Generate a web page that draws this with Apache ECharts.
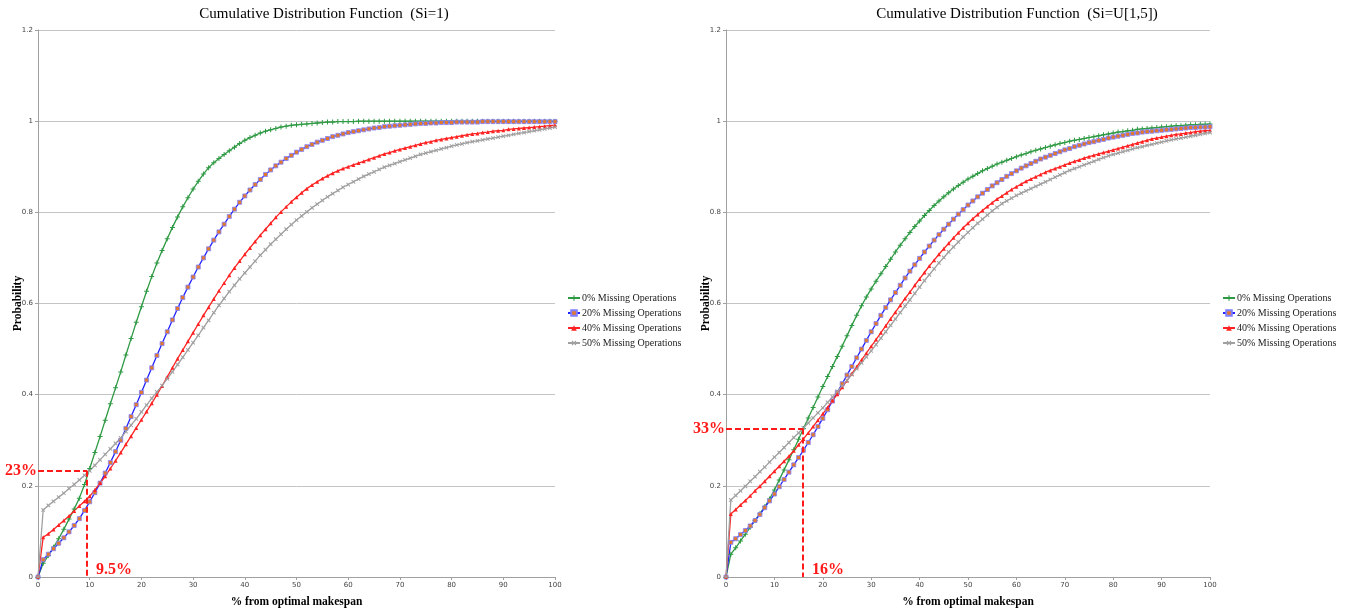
<!DOCTYPE html>
<html>
<head>
<meta charset="utf-8">
<script src="https://cdn.jsdelivr.net/npm/echarts@6/dist/echarts.min.js"></script>
<style>html,body{margin:0;padding:0;background:#fff;}#c{width:1353px;height:613px;}</style>
</head>
<body>
<div id="c"></div>
<script>
const seriesNames = ['0% Missing Operations','20% Missing Operations','40% Missing Operations','50% Missing Operations'];
const titles = ['Cumulative Distribution Function  (Si=1)','Cumulative Distribution Function  (Si=U[1,5])'];
const xAxisName = '% from optimal makespan';
const yAxisName = 'Probability';
const annotLeft = {x: 9.5, y: 0.233, xLabel: '9.5%', yLabel: '23%'};
const annotRight = {x: 15.9, y: 0.326, xLabel: '16%', yLabel: '33%'};

// Left chart (Si=1), values at 0,1,2,...,100 % from optimal makespan
const greenL = [
0,0.03,0.047,0.065,0.084,0.105,0.127,0.149,0.173,0.203,
0.238,0.273,0.308,0.344,0.38,0.415,0.45,0.487,0.523,0.559,
0.593,0.627,0.659,0.689,0.716,0.742,0.767,0.79,0.812,0.832,
0.851,0.868,0.884,0.898,0.909,0.918,0.927,0.935,0.943,0.951,
0.958,0.964,0.969,0.974,0.978,0.981,0.984,0.987,0.989,0.991,
0.992,0.993,0.994,0.995,0.996,0.997,0.998,0.998,0.999,0.999,
0.999,0.999,1,1,1,1,1,1,1,1,
1,1,1,1,1,1,1,1,1,1,
1,1,1,1,1,1,1,1,1,1,
1,1,1,1,1,1,1,1,1,1,
1];
const blueL = [
0,0.038,0.05,0.062,0.074,0.086,0.099,0.113,0.128,0.146,
0.165,0.185,0.206,0.228,0.251,0.275,0.3,0.326,0.352,0.378,
0.405,0.432,0.459,0.486,0.512,0.538,0.564,0.589,0.613,0.636,
0.658,0.68,0.7,0.72,0.739,0.757,0.774,0.791,0.807,0.822,
0.836,0.849,0.861,0.872,0.883,0.893,0.902,0.91,0.918,0.925,
0.932,0.938,0.944,0.949,0.954,0.958,0.962,0.966,0.969,0.972,
0.975,0.977,0.979,0.981,0.983,0.985,0.986,0.988,0.989,0.99,
0.991,0.992,0.993,0.994,0.995,0.995,0.996,0.996,0.997,0.997,
0.997,0.998,0.998,0.998,0.998,0.998,0.999,0.999,0.999,0.999,
0.999,0.999,0.999,0.999,0.999,0.999,0.999,0.999,0.999,0.999,
0.999];
const redL = [
0,0.087,0.095,0.104,0.114,0.124,0.134,0.145,0.156,0.166,
0.177,0.191,0.206,0.221,0.238,0.255,0.273,0.291,0.309,0.327,
0.345,0.363,0.381,0.4,0.419,0.439,0.459,0.479,0.498,0.517,
0.536,0.555,0.574,0.592,0.61,0.628,0.645,0.662,0.678,0.693,
0.708,0.722,0.736,0.75,0.763,0.776,0.789,0.801,0.812,0.823,
0.833,0.843,0.852,0.86,0.867,0.874,0.88,0.886,0.891,0.896,
0.9,0.904,0.908,0.912,0.916,0.92,0.924,0.928,0.931,0.935,
0.938,0.941,0.944,0.947,0.95,0.953,0.955,0.958,0.96,0.962,
0.964,0.966,0.968,0.97,0.972,0.973,0.975,0.976,0.978,0.979,
0.98,0.982,0.983,0.984,0.985,0.986,0.987,0.988,0.989,0.99,
0.991];
const grayL = [
0,0.147,0.157,0.166,0.175,0.184,0.194,0.203,0.213,0.223,
0.233,0.245,0.257,0.269,0.281,0.293,0.305,0.319,0.333,0.347,
0.362,0.377,0.392,0.406,0.42,0.435,0.45,0.466,0.482,0.498,
0.514,0.53,0.547,0.563,0.58,0.596,0.611,0.626,0.64,0.654,
0.667,0.68,0.693,0.706,0.718,0.73,0.741,0.752,0.763,0.773,
0.783,0.792,0.801,0.81,0.818,0.826,0.834,0.841,0.848,0.855,
0.861,0.867,0.873,0.879,0.884,0.889,0.894,0.899,0.903,0.907,
0.911,0.915,0.919,0.923,0.927,0.93,0.933,0.936,0.939,0.942,
0.945,0.948,0.95,0.953,0.955,0.957,0.959,0.961,0.963,0.965,
0.967,0.969,0.971,0.973,0.975,0.977,0.979,0.981,0.983,0.985,
0.987];

// Right chart (Si=U[1,5])
const greenR = [
0,0.05,0.064,0.079,0.094,0.109,0.124,0.139,0.154,0.171,
0.191,0.213,0.235,0.257,0.279,0.302,0.326,0.349,0.372,0.395,
0.418,0.44,0.462,0.484,0.506,0.529,0.552,0.574,0.595,0.614,
0.632,0.649,0.665,0.681,0.697,0.713,0.728,0.742,0.756,0.769,
0.781,0.793,0.804,0.815,0.825,0.834,0.843,0.851,0.859,0.866,
0.873,0.879,0.885,0.891,0.896,0.901,0.906,0.91,0.914,0.918,
0.922,0.926,0.929,0.933,0.936,0.939,0.942,0.945,0.948,0.951,
0.953,0.956,0.958,0.96,0.962,0.964,0.966,0.968,0.97,0.972,
0.974,0.976,0.977,0.979,0.98,0.982,0.983,0.984,0.985,0.986,
0.987,0.988,0.989,0.99,0.99,0.991,0.992,0.992,0.993,0.993,
0.994];
const blueR = [
0,0.076,0.084,0.093,0.102,0.112,0.124,0.137,0.152,0.167,
0.182,0.198,0.214,0.23,0.246,0.262,0.278,0.295,0.312,0.33,
0.348,0.367,0.386,0.405,0.424,0.443,0.462,0.481,0.5,0.519,
0.538,0.556,0.574,0.591,0.608,0.624,0.64,0.656,0.671,0.685,
0.699,0.713,0.726,0.739,0.751,0.763,0.774,0.785,0.796,0.806,
0.816,0.825,0.834,0.842,0.85,0.858,0.865,0.872,0.879,0.885,
0.891,0.897,0.902,0.907,0.912,0.917,0.921,0.925,0.929,0.933,
0.937,0.94,0.944,0.947,0.95,0.953,0.955,0.958,0.96,0.963,
0.965,0.967,0.969,0.971,0.973,0.974,0.976,0.977,0.978,0.979,
0.98,0.981,0.982,0.983,0.984,0.985,0.986,0.986,0.987,0.987,
0.988];
const redR = [
0,0.138,0.148,0.158,0.168,0.178,0.189,0.199,0.21,0.221,
0.232,0.243,0.254,0.265,0.277,0.29,0.303,0.316,0.33,0.344,
0.358,0.372,0.387,0.401,0.416,0.431,0.446,0.461,0.476,0.491,
0.506,0.521,0.536,0.551,0.566,0.581,0.596,0.611,0.625,0.64,
0.654,0.668,0.682,0.695,0.708,0.72,0.732,0.744,0.755,0.766,
0.776,0.786,0.795,0.804,0.813,0.821,0.829,0.836,0.843,0.85,
0.856,0.862,0.868,0.873,0.878,0.883,0.888,0.892,0.896,0.9,
0.904,0.908,0.912,0.915,0.919,0.922,0.925,0.928,0.931,0.934,
0.937,0.94,0.943,0.946,0.949,0.952,0.955,0.958,0.961,0.963,
0.965,0.967,0.969,0.971,0.972,0.974,0.975,0.977,0.978,0.979,
0.98];
const grayR = [
0,0.169,0.179,0.189,0.199,0.21,0.22,0.231,0.241,0.252,
0.263,0.273,0.284,0.295,0.306,0.316,0.327,0.338,0.349,0.36,
0.371,0.383,0.395,0.407,0.419,0.431,0.444,0.457,0.47,0.483,
0.496,0.51,0.524,0.538,0.552,0.566,0.58,0.594,0.608,0.622,
0.636,0.65,0.663,0.676,0.689,0.701,0.713,0.724,0.735,0.746,
0.756,0.766,0.776,0.785,0.794,0.803,0.811,0.819,0.825,0.831,
0.837,0.842,0.847,0.852,0.857,0.862,0.867,0.872,0.877,0.882,
0.887,0.892,0.896,0.9,0.904,0.908,0.912,0.916,0.92,0.924,
0.927,0.93,0.933,0.936,0.939,0.942,0.944,0.947,0.949,0.952,
0.954,0.957,0.959,0.961,0.963,0.965,0.967,0.969,0.971,0.973,
0.975];

const serif = "'Liberation Serif', 'DejaVu Serif', serif";
const sans = "'DejaVu Sans', sans-serif";
const toXY = arr => arr.map((v, i) => [i, v]);

const plus = 'path://M4,0H6V4H10V6H6V10H4V6H0V4H4Z';
const styles = [
  {color:'#2f9a44', symbol: plus, size:5, rotate:0, border:null},
  {color:'#2222ff', symbol:'rect', size:4, rotate:0, fill:'#e2782c', border:'#8080ff'},
  {color:'#ff2222', symbol:'triangle', size:4, rotate:0, border:null},
  {color:'#a0a0a0', symbol: plus, size:5, rotate:45, border:null}
];

function mkSeries(data, k, gi, extra) {
  const s = styles[k];
  const o = {
    name: seriesNames[k], type: 'line', xAxisIndex: gi, yAxisIndex: gi,
    data: toXY(data), symbol: s.symbol, symbolSize: s.size, symbolRotate: s.rotate,
    showAllSymbol: true, smooth: false,
    lineStyle: {color: s.color, width: 1.3},
    itemStyle: s.border ? {color: s.fill, borderColor: s.border, borderWidth: 0.8} : {color: s.color},
    emphasis: {disabled: true}, z: 3
  };
  return Object.assign(o, extra || {});
}

function dashed(a, gi) {
  return {
    silent: true, symbol: ['none','none'],
    lineStyle: {color: '#ff1a1a', type: [6,3], width: 2},
    label: {show: false},
    data: [
      [{coord:[0, a.y]}, {coord:[a.x, a.y]}],
      [{coord:[a.x, a.y]}, {coord:[a.x, 0]}]
    ]
  };
}

function xAx(gi) {
  return {
    type:'value', gridIndex: gi, min:0, max:100, interval:10,
    name: xAxisName, nameLocation:'middle', nameGap: 19, nameMoveOverlap: false,
    nameTextStyle:{fontFamily: serif, fontWeight:'bold', fontSize: 11.5, color:'#000'},
    axisLine:{lineStyle:{color:'#a0a0a0'}}, axisTick:{show:true, length:3, lineStyle:{color:'#a0a0a0'}},
    axisLabel:{fontSize:7, color:'#444', fontFamily: sans, margin:5},
    splitLine:{show:false}
  };
}
function yAx(gi) {
  return {
    type:'value', gridIndex: gi, min:0, max:1.2, interval:0.2,
    name: yAxisName, nameLocation:'middle', nameGap: 14, nameRotate: 90, nameMoveOverlap: false,
    nameTextStyle:{fontFamily: serif, fontWeight:'bold', fontSize: 11.5, color:'#000'},
    axisLine:{show:true, lineStyle:{color:'#a0a0a0'}}, axisTick:{show:true, length:3, lineStyle:{color:'#a0a0a0'}},
    axisLabel:{fontSize:7, color:'#444', fontFamily: sans, margin:5,
      formatter: v => String(Math.round(v*10)/10)},
    splitLine:{show:true, lineStyle:{color:'#c4c4c4', width:1}}
  };
}
function legend(left) {
  return {
    orient:'vertical', left: left, top: 288, itemWidth: 12, itemHeight: 7, itemGap: 5,
    textStyle:{fontFamily: serif, fontSize: 10, color:'#222', padding:[0,0,0,-3]},
    data: seriesNames, selectedMode: false
  };
}

const chart = echarts.init(document.getElementById('c'), null, {renderer:'canvas'});
chart.setOption({
  animation: false,
  backgroundColor: '#fff',
  title: [
    {text: titles[0], left: 319, top: 2, textAlign:'center', textStyle:{fontFamily: serif, fontSize: 15, fontWeight:'normal', color:'#000'}},
    {text: titles[1], left: 1012, top: 2, textAlign:'center', textStyle:{fontFamily: serif, fontSize: 15, fontWeight:'normal', color:'#000'}}
  ],
  grid: [
    {left: 38, top: 30, width: 517, height: 548},
    {left: 726, top: 30, width: 484, height: 548}
  ],
  xAxis: [xAx(0), xAx(1)],
  yAxis: [yAx(0), yAx(1)],
  legend: [legend(562), legend(1217)],
  series: [
    mkSeries(greenL, 0, 0), mkSeries(blueL, 1, 0), mkSeries(redL, 2, 0),
    mkSeries(grayL, 3, 0, {markLine: dashed(annotLeft, 0)}),
    mkSeries(greenR, 0, 1), mkSeries(blueR, 1, 1), mkSeries(redR, 2, 1),
    mkSeries(grayR, 3, 1, {markLine: dashed(annotRight, 1)})
  ]
});

function annotTexts(a, gi) {
  const py = chart.convertToPixel({gridIndex: gi}, [0, a.y]);
  const px = chart.convertToPixel({gridIndex: gi}, [a.x, 0]);
  const font = "bold 16px " + serif;
  return [
    {type:'text', x: py[0] - 1, y: py[1], silent:true,
     style:{text: a.yLabel, font: font, fill:'#ff1a1a', align:'right', verticalAlign:'middle'}},
    {type:'text', x: px[0] + 9, y: px[1] - 7, silent:true,
     style:{text: a.xLabel, font: font, fill:'#ff1a1a', align:'left', verticalAlign:'middle'}}
  ];
}
chart.setOption({graphic: annotTexts(annotLeft, 0).concat(annotTexts(annotRight, 1))});
</script>
</body>
</html>
